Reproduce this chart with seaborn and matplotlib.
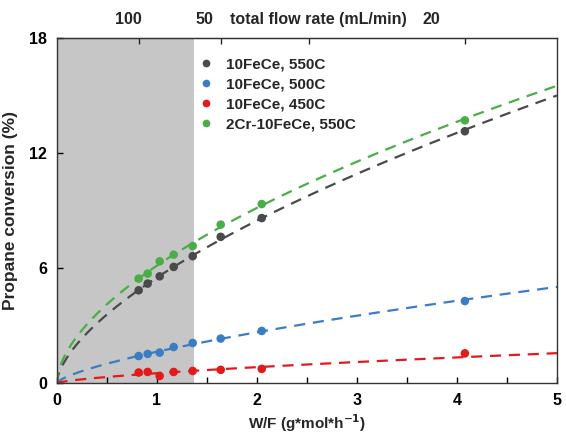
import numpy as np
import pandas as pd
import seaborn as sns
import matplotlib.pyplot as plt

# W/F values (g*mol*h^-1), shared by all series
wf = [0.82, 0.91, 1.03, 1.17, 1.36, 1.64, 2.05, 4.08]

# propane conversion (%)
conv_550 = [4.85, 5.20, 5.58, 6.07, 6.63, 7.64, 8.62, 13.15]
conv_500 = [1.42, 1.53, 1.60, 1.89, 2.10, 2.33, 2.73, 4.29]
conv_450 = [0.56, 0.59, 0.38, 0.59, 0.64, 0.70, 0.75, 1.56]
conv_cr = [5.46, 5.72, 6.36, 6.71, 7.16, 8.28, 9.35, 13.72]

series = ['10FeCe, 550C', '10FeCe, 500C', '10FeCe, 450C', '2Cr-10FeCe, 550C']
colors = ['#4a4a4a', '#3b7dc4', '#e3191c', '#4aae48']

# top axis: flow rate ticks and labels
flow_tick_pos = [0.82, 1.64, 2.52, 4.08]
flow_label_pos = [0.72, 1.48, 2.62, 3.75]
flow_labels = ['100', '50', 'total flow rate (mL/min)', '20']

shade_end = 1.37

df = pd.DataFrame({
    'wf': wf * 4,
    'conv': conv_550 + conv_500 + conv_450 + conv_cr,
    'sample': [s for s in series for _ in wf],
})

sns.set_style('ticks')
plt.rcParams['font.family'] = ['Liberation Sans', 'DejaVu Sans']
plt.rcParams['font.weight'] = 'bold'

fig = plt.figure(figsize=(5.66, 4.38), dpi=100)
ax = fig.add_axes([0.1, 0.125, 0.884, 0.7875])

ax.axvspan(0, shade_end, color='#c6c6c6', zorder=0, lw=0)

# power-law fits through the origin, fitted on the points
xf = np.linspace(0, 5, 300)
for s, c in zip(series, colors):
    d = df[df['sample'] == s]
    b, loga = np.polyfit(np.log(d['wf']), np.log(d['conv']), 1)
    ax.plot(xf, np.exp(loga) * xf ** b, ls=(0, (5, 3.5)), color=c, lw=1.6, zorder=2)

sns.scatterplot(data=df, x='wf', y='conv', hue='sample', palette=colors,
                s=38, edgecolor='none', ax=ax, zorder=3)

ax.set_xlim(0, 5)
ax.set_ylim(0, 18)
ax.set_xticks(np.arange(0, 5.01, 0.5))
ax.set_xticklabels([f'{int(v)}' if v == int(v) else '' for v in np.arange(0, 5.01, 0.5)])
ax.set_yticks([0, 6, 12, 18])
ax.tick_params(direction='in', length=4, width=1, labelsize=11.5, colors='black', pad=7)
for lab in ax.get_xticklabels() + ax.get_yticklabels():
    lab.set_fontweight('bold')
ax.set_xlabel('W/F (g*mol*h$^{\\mathbf{-1}}$)', fontsize=11, fontweight='bold', labelpad=3)
ax.set_ylabel('Propane conversion (%)', fontsize=12.5, fontweight='bold', labelpad=8)
for sp in ax.spines.values():
    sp.set_color('#333333')
    sp.set_linewidth(1)

top = ax.secondary_xaxis('top')
top.set_xticks(flow_tick_pos, minor=True)
top.set_xticks(flow_label_pos, flow_labels)
top.tick_params(which='major', length=0, labelsize=11.5, pad=8)
top.tick_params(which='minor', direction='in', length=4, width=1)
for lab in top.get_xticklabels():
    lab.set_fontweight('bold')

leg = ax.legend(loc='upper left', bbox_to_anchor=(0.24, 0.985), frameon=False,
                handletextpad=0.3, labelspacing=0.4, markerscale=0.9,
                prop={'weight': 'bold', 'size': 11})

fig.savefig('out.png', dpi=100)
